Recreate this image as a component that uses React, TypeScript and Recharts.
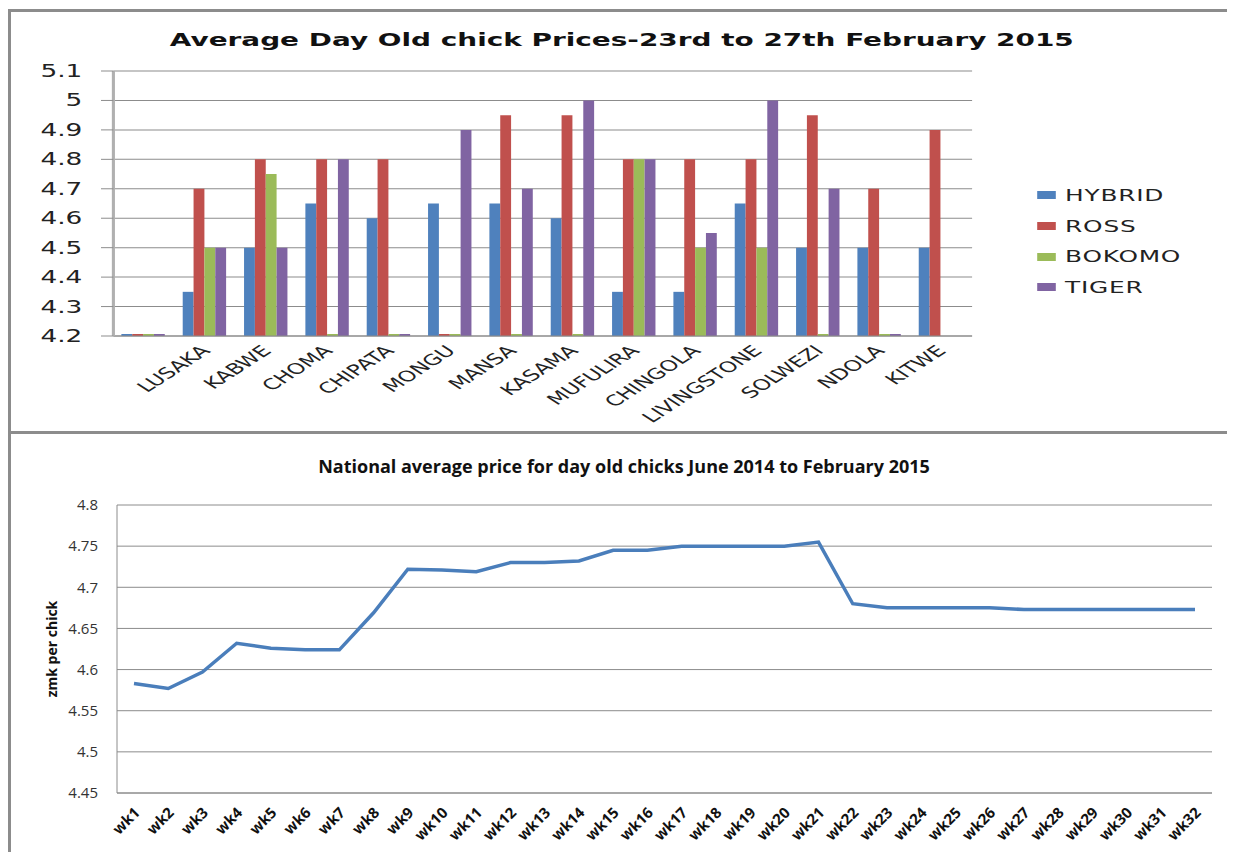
import React from 'react';
import {
  BarChart,
  Bar,
  LineChart,
  Line,
  XAxis,
  YAxis,
  CartesianGrid,
  Label,
} from 'recharts';

// --- top chart: prices by town ---
const towns = ['', 'LUSAKA', 'KABWE', 'CHOMA', 'CHIPATA', 'MONGU', 'MANSA', 'KASAMA', 'MUFULIRA', 'CHINGOLA', 'LIVINGSTONE', 'SOLWEZI', 'NDOLA', 'KITWE'];
const hybrid = [4.2, 4.35, 4.5, 4.65, 4.6, 4.65, 4.65, 4.6, 4.35, 4.35, 4.65, 4.5, 4.5, 4.5];
const ross = [4.2, 4.7, 4.8, 4.8, 4.8, 4.2, 4.95, 4.95, 4.8, 4.8, 4.8, 4.95, 4.7, 4.9];
const bokomo = [4.2, 4.5, 4.75, 4.2, 4.2, 4.2, 4.2, 4.2, 4.8, 4.5, 4.5, 4.2, 4.2, null];
const tiger = [4.2, 4.5, 4.5, 4.8, 4.2, 4.9, 4.7, 5.0, 4.8, 4.55, 5.0, 4.7, 4.2, null];
const priceTicks = [4.2, 4.3, 4.4, 4.5, 4.6, 4.7, 4.8, 4.9, 5.0, 5.1];

// --- bottom chart: national weekly average ---
const weeks = Array.from({ length: 32 }, (_, i) => `wk${i + 1}`);
const national = [
  4.583, 4.577, 4.597, 4.632, 4.626, 4.624, 4.624, 4.669, 4.722, 4.721, 4.719, 4.73, 4.73, 4.732, 4.745, 4.745,
  4.75, 4.75, 4.75, 4.75, 4.755, 4.68, 4.675, 4.675, 4.675, 4.675, 4.673, 4.673, 4.673, 4.673, 4.673, 4.673,
];
const nationalTicks = [4.45, 4.5, 4.55, 4.6, 4.65, 4.7, 4.75, 4.8];

const series = [
  { key: 'HYBRID', color: '#4F81BD' },
  { key: 'ROSS', color: '#C0504D' },
  { key: 'BOKOMO', color: '#9BBB59' },
  { key: 'TIGER', color: '#8064A2' },
];

const townData = towns.map((t, i) => ({
  town: t,
  HYBRID: hybrid[i],
  ROSS: ross[i],
  BOKOMO: bokomo[i],
  TIGER: tiger[i],
}));

const weekData = weeks.map((w, i) => ({ week: w, price: national[i] }));

const STRETCH = 1.55;
const VERDANA = 'Verdana, "DejaVu Sans", sans-serif';
const CALIBRI = '"Open Sans", Lato, sans-serif';

const TownTick = (props: any) => {
  const { x, y, payload } = props;
  return (
    <g transform={`translate(${x},${y + 10}) rotate(-45)`}>
      <text x={0} y={0} dy="0.35em" textAnchor="end" fontFamily={VERDANA} fontSize={15} fill="#222">
        {payload.value}
      </text>
    </g>
  );
};

const WeekTick = (props: any) => {
  const { x, y, payload } = props;
  return (
    <g transform={`translate(${x + 3},${y + 15}) rotate(-45)`}>
      <text x={0} y={0} dy="0.35em" textAnchor="end" fontFamily={CALIBRI} fontWeight="bold" fontSize={15} fill="#111">
        {payload.value}
      </text>
    </g>
  );
};

const YTitle = (props: any) => {
  const { viewBox } = props;
  const cx = viewBox.x + 44;
  const cy = viewBox.y + viewBox.height / 2;
  return (
    <text x={cx} y={cy} transform={`rotate(-90, ${cx}, ${cy})`} textAnchor="middle" dy="0.35em"
      fontFamily={CALIBRI} fontWeight="bold" fontSize={14} fill="#111">
      zmk per chick
    </text>
  );
};

const fmtPrice = (v: number) => String(Number(v.toFixed(1)));

export default function App() {
  return (
    <div style={{ position: 'relative', width: 1227, height: 844, background: '#fff' }}>
      {/* top chart, horizontally stretched like the pasted image */}
      <div
        style={{
          position: 'absolute',
          left: 0,
          top: 0,
          width: 792,
          height: 423,
          transform: `scaleX(${STRETCH})`,
          transformOrigin: '0 0',
        }}
      >
        <div
          style={{
            position: 'absolute',
            top: 21,
            left: 0,
            width: 792,
            textAlign: 'center',
            fontFamily: VERDANA,
            fontWeight: 'bold',
            fontSize: 18,
            color: '#111',
          }}
        >
          Average Day Old chick Prices-23rd to 27th February 2015
        </div>
        <BarChart
          width={792}
          height={423}
          data={townData}
          margin={{ top: 63, right: 170, left: 0, bottom: 0 }}
          barCategoryGap="13%"
          barGap={0}
        >
          <CartesianGrid vertical={false} stroke="#8c8c8c" />
          <XAxis
            dataKey="town"
            interval={0}
            height={95}
            tickLine={false}
            tickSize={0}
            axisLine={{ stroke: '#8c8c8c' }}
            tick={<TownTick />}
          />
          <YAxis
            width={68}
            domain={[4.2, 5.1]}
            ticks={priceTicks}
            allowDataOverflow
            tickFormatter={fmtPrice}
            tickSize={8}
            tickMargin={12}
            tickLine={{ stroke: '#8c8c8c' }}
            axisLine={{ stroke: '#b0b0b0', strokeWidth: 2 }}
            tick={{ fontFamily: VERDANA, fontSize: 17, fill: '#222' }}
          />
          {series.map((s) => (
            <Bar
              key={s.key}
              dataKey={s.key}
              fill={s.color}
              minPointSize={(v: any) => (v == null ? 0 : 2)}
              isAnimationActive={false}
            />
          ))}
        </BarChart>
        <div style={{ position: 'absolute', left: 664, top: 172, fontFamily: VERDANA, fontSize: 16, color: '#222' }}>
          {series.map((s) => (
            <div key={s.key} style={{ display: 'flex', alignItems: 'center', height: 30.7 }}>
              <span style={{ display: 'inline-block', width: 11.6, height: 8, background: s.color, marginRight: 6.4 }} />
              <span style={{ letterSpacing: 0.5 }}>{s.key}</span>
            </div>
          ))}
        </div>
      </div>

      {/* bottom chart */}
      <div style={{ position: 'absolute', left: 0, top: 426, width: 1227, height: 418 }}>
        <div
          style={{
            position: 'absolute',
            top: 20,
            left: 0,
            width: 1232,
            textAlign: 'center',
            fontFamily: CALIBRI,
            fontWeight: 'bold',
            fontSize: 18,
            color: '#111',
          }}
        >
          National average price for day old chicks June 2014 to February 2015
        </div>
        <LineChart width={1227} height={418} data={weekData} margin={{ top: 71, right: 23, left: 0, bottom: 0 }}>
          <CartesianGrid vertical={false} stroke="#8c8c8c" />
          <XAxis
            dataKey="week"
            interval={0}
            height={59}
            padding={{ left: 17, right: 17 }}
            tickLine={false}
            tickSize={0}
            axisLine={{ stroke: '#8c8c8c' }}
            tick={<WeekTick />}
          />
          <YAxis
            width={109}
            domain={[4.45, 4.8]}
            ticks={nationalTicks}
            tickLine={false}
            tickSize={0}
            tickMargin={19}
            axisLine={{ stroke: '#8c8c8c' }}
            tick={{ fontFamily: CALIBRI, fontSize: 15, fill: '#333' }}
          >
            <Label content={<YTitle />} />
          </YAxis>
          <Line
            type="linear"
            dataKey="price"
            stroke="#4A7EBB"
            strokeWidth={3.5}
            dot={false}
            isAnimationActive={false}
          />
        </LineChart>
      </div>

      {/* frame lines */}
      <div style={{ position: 'absolute', left: 0, top: 1, width: 1227, height: 3, background: '#8c8c8c' }} />
      <div style={{ position: 'absolute', left: 0, top: 423, width: 1227, height: 3, background: '#8c8c8c' }} />
      <div style={{ position: 'absolute', left: 0, top: 1, width: 3, height: 843, background: '#8c8c8c' }} />
    </div>
  );
}
